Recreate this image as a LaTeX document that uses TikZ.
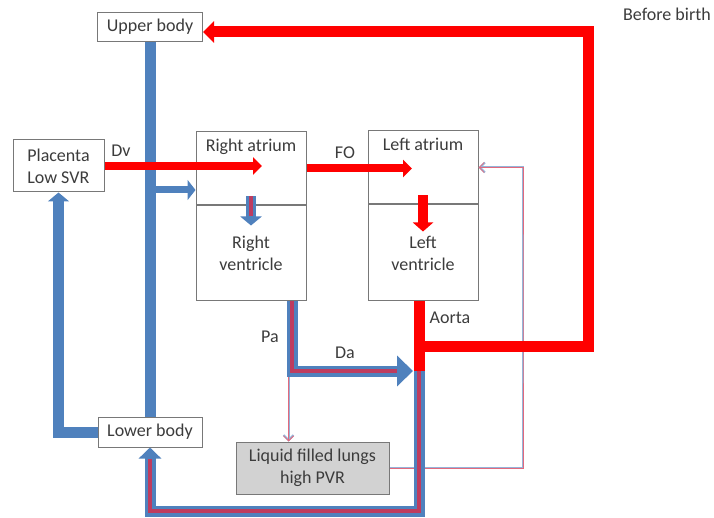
\documentclass[tikz,border=0pt]{standalone}
\usepackage{fontspec}
\setmainfont{Carlito}
\usepackage{tikz}
\usetikzlibrary{arrows.meta,positioning}
\definecolor{artred}{RGB}{255,0,0}
\definecolor{venblue}{RGB}{79,129,189}
\definecolor{mixred}{RGB}{190,60,95}
\definecolor{thinpink}{RGB}{226,105,125}
\definecolor{thinblue}{RGB}{150,180,216}
\definecolor{boxline}{RGB}{120,120,120}
\definecolor{txt}{RGB}{60,60,60}
\definecolor{lunggray}{RGB}{210,210,210}

\begin{document}
\begin{tikzpicture}[x=1pt, y=-1pt,
    every node/.style={font=\fontsize{18}{22}\selectfont, text=txt},
    box/.style={draw=boxline, fill=white, line width=1pt, inner sep=2pt, align=center},
    redbig/.style={draw=artred, line width=11pt},
    redmid/.style={draw=artred, line width=8pt},
    bluebig/.style={draw=venblue, line width=11pt},
    bluemid/.style={draw=venblue, line width=7pt},
    stripe/.style={draw=mixred, line width=3.5pt},
    thinflow/.style={draw=thinpink, line width=0.8pt, preaction={draw=thinblue, line width=2pt}}]
  \useasboundingbox (0,0) rectangle (714,518);

  \node[box, minimum width=105pt, minimum height=29pt] (upper) at (150,27) {Upper body};
  \node[box, align=left, minimum width=91pt, minimum height=52pt] (placenta) at (58.5,166) {Placenta\\Low SVR};
  \node[box, minimum width=110pt, minimum height=73pt,
        label={[anchor=north, inner sep=7pt]north:Right atrium}] (ra) at (251,168.5) {};
  \node[box, minimum width=110pt, minimum height=95pt, below=0pt of ra] (rv) {Right\\ventricle};
  \node[box, minimum width=110pt, minimum height=73pt,
        label={[anchor=north, inner sep=7pt]north:Left atrium}] (la) at (423,167.5) {};
  \node[box, minimum width=110pt, minimum height=96pt, below=0pt of la] (lv) {Left\\ventricle};
  \node[box, minimum width=104pt, minimum height=30pt] (lower) at (150,432) {Lower body};
  \node[box, fill=lunggray, minimum width=153pt, minimum height=52pt] (lungs) at (312.5,468) {Liquid filled lungs\\high PVR};

  \node (dv) at (121,151) {Dv};
  \node (fo) at (345,153) {FO};
  \node (pa) at (270,337) {Pa};
  \node (da) at (345,353) {Da};
  \node (aorta) at (450,318) {Aorta};
  \node (birth) at (667,14) {Before birth};

  \coordinate (pabend) at (292,371);
  \coordinate (datip) at (413,371);
  \coordinate (dabend) at (419,371);
  \coordinate (botcorner) at (150,511);
  \coordinate (aortabend) at (419,346);
  \coordinate (redcorner) at (588,32);
  \coordinate (uppertip) at ([yshift=-5pt]upper.east);
  \coordinate (svcbend) at (150,190);
  \coordinate (dvtip) at (262,166);
  \coordinate (fotip) at (412,168.5);
  \coordinate (lungin) at ([xshift=-24pt]lungs.north);
  \coordinate (pvright) at (523,300);

  \draw[thinflow, -{Straight Barb[length=5pt,width=10pt]}] (lungin |- pabend) -- (lungin);
  \draw[thinflow, -{Straight Barb[length=5pt,width=10pt]}] (lungs.east) -| (pvright) |- (la.east);

  \draw[bluebig] (upper.south) -- (lower.north);
  \draw[bluemid, -{Triangle[length=8pt,width=20pt]}] (svcbend) -- (svcbend -| ra.west);
  \draw[bluebig, -{Triangle[length=9pt,width=21pt]}] (lower.west) -| (placenta.south);
  \draw[bluebig, -{Triangle[length=16pt,width=30pt]}] (rv.south -| pabend) -- (pabend) -- (datip);
  \draw[stripe] (rv.south -| pabend) -- (pabend) -- ([xshift=-16pt]datip);
  \draw[bluebig, -{Triangle[length=11pt,width=22pt]}] (dabend) |- (botcorner) -- (lower.south);
  \draw[stripe] (dabend) |- (botcorner) -- ([yshift=-11pt]lower.south);
  \draw[draw=venblue, line width=10pt, -{Triangle[length=9pt,width=21pt]}] ([yshift=9pt]ra.south) -- ([yshift=-20pt]ra.south);
  \draw[stripe] ([yshift=9pt]ra.south) -- ([yshift=-11pt]ra.south);

  \draw[redmid, -{Triangle[length=9pt,width=17pt]}] (placenta.east) -- (dvtip);
  \draw[redmid, -{Triangle[length=9pt,width=17pt]}] (ra.east) -- (fotip);
  \draw[draw=artred, line width=10pt, -{Triangle[length=9pt,width=20pt]}] ([yshift=9pt]la.south) -- ([yshift=-27pt]la.south);
  \draw[redbig] (lv.south -| dabend) -- (dabend);
  \draw[redbig, -{Triangle[length=11pt,width=21pt]}] (aortabend) -| (redcorner) -- (uppertip);
\end{tikzpicture}
\end{document}
